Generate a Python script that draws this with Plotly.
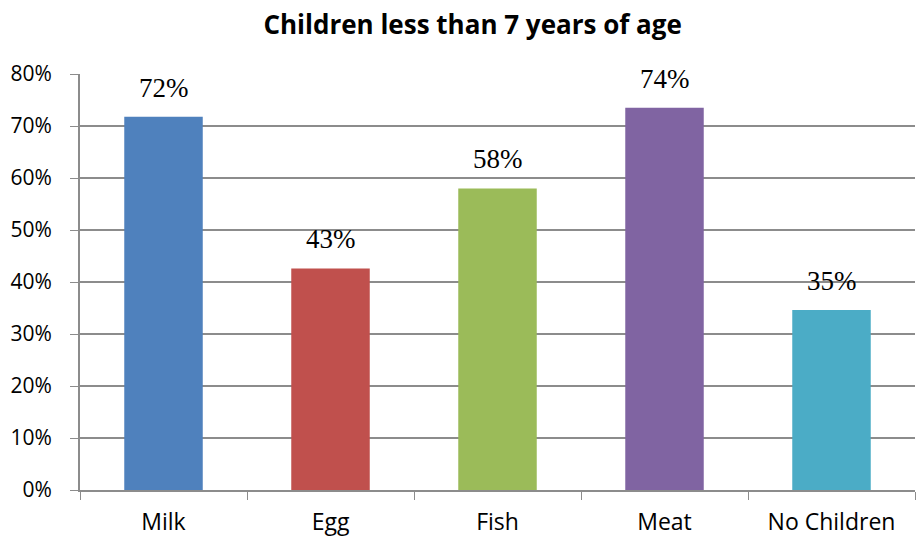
import plotly.graph_objects as go

categories = ["Milk", "Egg", "Fish", "Meat", "No Children"]
values = [71.8, 42.6, 58.0, 73.5, 34.6]
labels = ["72%", "43%", "58%", "74%", "35%"]
colors = ["#4F81BD", "#C0504D", "#9BBB59", "#8064A2", "#4BACC6"]
y_ticks = [0, 10, 20, 30, 40, 50, 60, 70, 80]
y_tick_text = [f"{v}%" for v in y_ticks]

fig = go.Figure(go.Bar(
    x=categories, y=values, marker=dict(color=colors, line=dict(width=0)),
    hoverinfo="skip",
))

for c, v, t in zip(categories, values, labels):
    fig.add_annotation(x=c, y=v, text=t, showarrow=False, yanchor="bottom",
                       yshift=12, xref="x", yref="y",
                       font=dict(family="Liberation Serif", size=27, color="#000000"))

fig.update_layout(
    width=916, height=538,
    margin=dict(l=80, r=1, t=74, b=48),
    paper_bgcolor="white", plot_bgcolor="white",
    title=dict(text="<b>Children less than 7 years of age</b>", x=0.516, xanchor="center",
               y=0.953, yanchor="middle",
               font=dict(family="Open Sans", size=26, color="#000000")),
    bargap=0.53,
    showlegend=False,
    font=dict(family="Open Sans", size=21, color="#000000"),
)
fig.update_yaxes(range=[0, 80], tickvals=y_ticks, ticktext=y_tick_text,
                 showgrid=True, gridcolor="#8C8C8C", gridwidth=1.5,
                 showline=True, linecolor="#8C8C8C", linewidth=2,
                 ticks="outside", ticklen=8, tickcolor="#8C8C8C",
                 ticklabelstandoff=14,
                 zeroline=False, tickfont=dict(size=21, family="Open Sans"))
fig.update_xaxes(showline=True, linecolor="#8C8C8C", linewidth=2,
                 ticks="outside", tickson="boundaries", ticklen=8, tickcolor="#8C8C8C",
                 ticklabelstandoff=10,
                 tickfont=dict(size=23, family="Open Sans"))

fig.write_html("out.html")
